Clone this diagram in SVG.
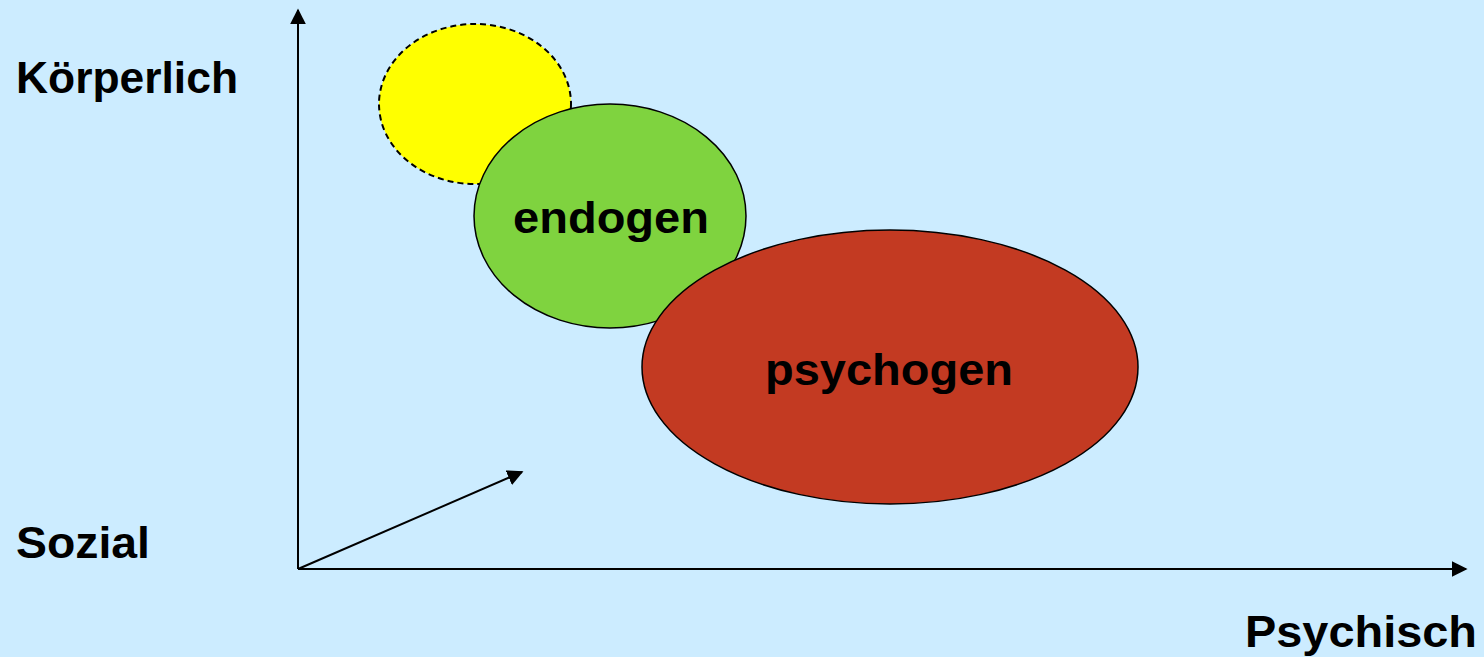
<svg xmlns="http://www.w3.org/2000/svg" width="1484" height="657" viewBox="0 0 1484 657">
<style>
.lbl{font-family:"Liberation Sans",Arial,sans-serif;font-weight:bold;font-size:44px;fill:#000}
.ax{stroke:#000;stroke-width:2;fill:none}
</style>
<defs>
<marker id="ah" viewBox="0 0 10 10" refX="9" refY="5" markerWidth="16" markerHeight="16" markerUnits="userSpaceOnUse" orient="auto">
<path d="M0,0 L10,5 L0,10 z" fill="#000"/>
</marker>
</defs>
<rect x="0" y="0" width="1484" height="657" fill="#CCECFF"/>
<g id="connectors">
<line class="ax" x1="298" y1="569" x2="298" y2="10" marker-end="url(#ah)"/>
<line class="ax" x1="298" y1="569" x2="1466" y2="569" marker-end="url(#ah)"/>
<line class="ax" x1="298" y1="569" x2="522" y2="472" marker-end="url(#ah)"/>
</g>
<g id="yellow">
<ellipse cx="475" cy="104" rx="96" ry="80" fill="#FFFF00" stroke="#000" stroke-width="2" stroke-dasharray="6,4"/>
</g>
<g id="endogen">
<ellipse cx="610" cy="216" rx="136" ry="112" fill="#7FD33F" stroke="#000" stroke-width="1.5"/>
<text class="lbl" x="611" y="233" text-anchor="middle" textLength="196" lengthAdjust="spacingAndGlyphs">endogen</text>
</g>
<g id="psychogen">
<ellipse cx="890" cy="367" rx="248" ry="137" fill="#C33A22" stroke="#000" stroke-width="1.5"/>
<text class="lbl" x="889" y="385" text-anchor="middle" textLength="248" lengthAdjust="spacingAndGlyphs">psychogen</text>
</g>
<g id="koerperlich"><text class="lbl" x="16" y="93" textLength="222" lengthAdjust="spacingAndGlyphs">Körperlich</text></g>
<g id="sozial"><text class="lbl" x="16" y="558" textLength="134" lengthAdjust="spacingAndGlyphs">Sozial</text></g>
<g id="psychisch"><text class="lbl" x="1245" y="647" textLength="232" lengthAdjust="spacingAndGlyphs">Psychisch</text></g>
</svg>
